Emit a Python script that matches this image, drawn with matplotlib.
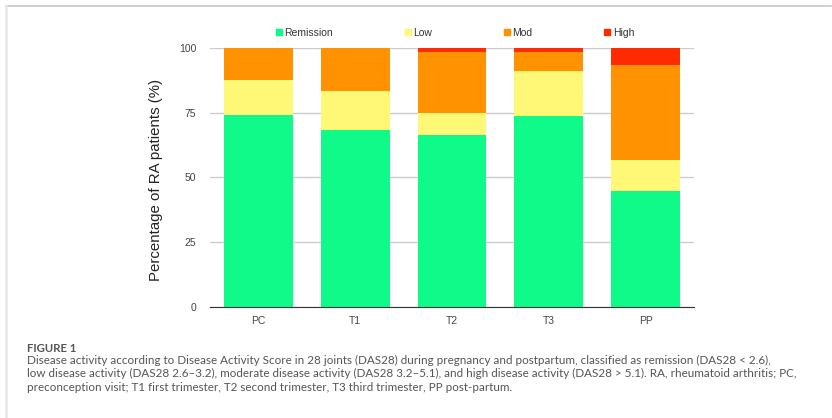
import matplotlib.pyplot as plt
from matplotlib.lines import Line2D

plt.rcParams['font.family'] = ['Liberation Sans', 'DejaVu Sans']

categories = ["PC", "T1", "T2", "T3", "PP"]
remission = [74.0, 68.4, 66.5, 73.7, 44.8]
low = [13.6, 15.0, 8.5, 17.5, 11.9]
moderate = [12.4, 16.6, 23.6, 7.3, 36.7]
high = [0.0, 0.0, 1.4, 1.5, 6.6]
series_names = ["Remission", "Low", "Mod", "High"]
colors = ["#10fa8a", "#fff876", "#ff9200", "#ff2a00"]
yticks = [0, 25, 50, 75, 100]

caption_title = "FIGURE 1"
caption_lines = [
    "Disease activity according to Disease Activity Score in 28 joints (DAS28) during pregnancy and postpartum, classified as remission (DAS28 < 2.6),",
    "low disease activity (DAS28 2.6\u20133.2), moderate disease activity (DAS28 3.2\u20135.1), and high disease activity (DAS28 > 5.1). RA, rheumatoid arthritis; PC,",
    "preconception visit; T1 first trimester, T2 second trimester, T3 third trimester, PP post-partum.",
]

fig = plt.figure(figsize=(8.32, 4.18), dpi=100)
ax = fig.add_axes([0.2524, 0.2663, 0.5817, 0.6189])

x = range(len(categories))
bottom = [0.0] * len(categories)
for name, vals, col in zip(series_names, [remission, low, moderate, high], colors):
    ax.bar(x, vals, width=0.71, bottom=bottom, color=col, label=name, zorder=2)
    bottom = [b + v for b, v in zip(bottom, vals)]

ax.set_xlim(-0.5, len(categories) - 0.5)
ax.set_ylim(0, 100)
ax.set_yticks(yticks)
ax.set_xticks(list(x))
ax.set_xticklabels(categories)
ax.tick_params(axis="both", length=0, labelsize=7.5, labelcolor="#444444")
ax.tick_params(axis="y", pad=10)
ax.tick_params(axis="x", pad=7)
ax.grid(axis="y", color="#cccccc", linewidth=1, zorder=0)
for s in ["top", "right", "left"]:
    ax.spines[s].set_visible(False)
ax.spines["bottom"].set_color("#333333")
ax.spines["bottom"].set_zorder(3)
ax.set_ylabel("Percentage of RA patients (%)", fontsize=10.8, color="#222222", labelpad=7)
ax.yaxis.set_label_coords(-0.098, 0.49)

handles = [Line2D([], [], marker="s", linestyle="", markersize=4.5, color=c) for c in colors]
fig.legend(handles, series_names, loc="center", bbox_to_anchor=(0.547, 0.921), ncol=4,
           frameon=False, fontsize=7.5, handlelength=0.6, handletextpad=0.2,
           columnspacing=6.9, labelcolor="#333333")

# frame around figure block
fig.add_artist(Line2D([6 / 832, 831 / 832], [1 - 6 / 418, 1 - 6 / 418],
                      transform=fig.transFigure, color="#c8c8c8", linewidth=1.2))
fig.add_artist(Line2D([6 / 832, 6 / 832], [0, 1 - 6 / 418],
                      transform=fig.transFigure, color="#e6e6e6", linewidth=1.8))

fig.text(27 / 832, 1 - 348 / 418, caption_title, fontsize=8.2, fontweight="bold",
         color="#555555", family="Lato", va="center")
for i, line in enumerate(caption_lines):
    fig.text(27 / 832, 1 - (360.5 + 13.4 * i) / 418, line, fontsize=8.35,
             color="#555555", family="Lato", va="center")

fig.savefig("out.png", dpi=100)
